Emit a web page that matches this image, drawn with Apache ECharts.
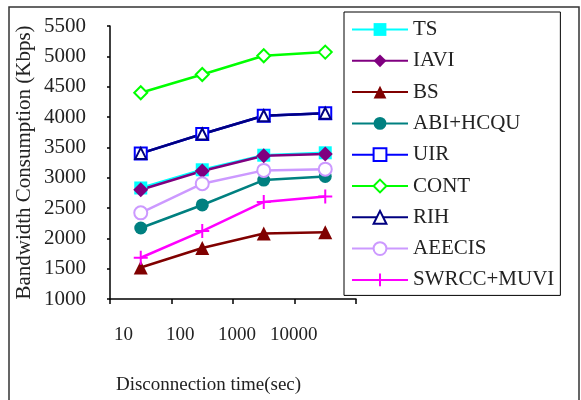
<!DOCTYPE html>
<html>
<head>
<meta charset="utf-8">
<script src="https://cdn.jsdelivr.net/npm/echarts@6/dist/echarts.min.js"></script>
<style>
  html, body { margin: 0; padding: 0; background: #fff; }
  #chart { width: 581px; height: 400px; }
</style>
</head>
<body>
<div id="chart"></div>
<script>
    // disconnection time (sec)
    const categories = ['10', '100', '1000', '10000'];

    // bandwidth consumption (Kbps)
    const ts = [2830, 3130, 3370, 3410];
    const iavi = [2800, 3110, 3360, 3390];
    const bs = [1520, 1840, 2080, 2100];
    const abiHcqu = [2170, 2550, 2960, 3020];
    const uir = [3400, 3720, 4020, 4060];
    const cont = [4400, 4700, 5010, 5070];
    const rih = [3400, 3720, 4020, 4060];
    const aeecis = [2420, 2900, 3120, 3140];
    const swrccMuvi = [1680, 2120, 2600, 2690];

    const FONT = 'Liberation Serif';
    const plus = 'path://M0,5L10,5M5,0L5,10';

    let EC = echarts.init(document.getElementById('chart'));

    // 一条折线
    function mk(name, data, color, symbol, size, hollow) {
        return {
            name: name,
            type: 'line',
            data: data,
            symbol: symbol,
            symbolSize: size,
            showSymbol: true,
            xAxisIndex: 0,
            yAxisIndex: 0,
            lineStyle: { color: color, width: 2.5 },
            itemStyle: hollow
                ? { color: '#fff', borderColor: color, borderWidth: 2 }
                : { color: color, borderColor: color, borderWidth: symbol === plus ? 2 : 0 },
            emphasis: { disabled: true },
            z: 3
        };
    }

    let option = {
        backgroundColor: '#fff',
        animation: false,
        graphic: [{
            type: 'rect',
            shape: { x: 9, y: 7, width: 570, height: 400 },
            style: { fill: 'none', stroke: '#333', lineWidth: 1.5 },
            silent: true
        }],
        grid: [
            { left: 110, top: 26, width: 246, bottom: 101 },
            { left: 95, top: 26, width: 227, bottom: 101 }
        ],
        xAxis: [{
            type: 'category',
            gridIndex: 0,
            data: categories,
            boundaryGap: true,
            axisLine: { lineStyle: { color: '#000', width: 1.5 } },
            axisTick: { show: true, length: 5, lineStyle: { color: '#000', width: 1.5 } },
            axisLabel: { show: false }
        }, {
            type: 'category',
            gridIndex: 1,
            data: categories,
            boundaryGap: true,
            axisLine: { show: false },
            axisTick: { show: false },
            axisLabel: { interval: 0, margin: 27, fontFamily: FONT, fontSize: 19, color: '#222' },
            name: 'Disconnection time(sec)',
            nameLocation: 'middle',
            nameGap: 77,
            nameTextStyle: { fontFamily: FONT, fontSize: 19, color: '#222' }
        }],
        yAxis: [{
            type: 'value',
            gridIndex: 0,
            min: 1000,
            max: 5500,
            interval: 500,
            splitLine: { show: false },
            axisLine: { show: true, lineStyle: { color: '#000', width: 1.5 } },
            axisTick: { show: true, length: 3, lineStyle: { color: '#000', width: 1.5 } },
            axisLabel: {
                margin: 24, fontFamily: FONT, fontSize: 21, color: '#222',
                formatter: v => String(v)
            },
            name: 'Bandwidth Consumption (Kbps)',
            nameLocation: 'middle',
            nameGap: 75,
            nameTextStyle: { fontFamily: FONT, fontSize: 21, color: '#222' }
        }, {
            type: 'value',
            gridIndex: 1,
            show: false,
            min: 1000,
            max: 5500
        }],
        legend: {
            orient: 'vertical',
            left: 344,
            top: 12,
            padding: [7, 6, 5, 7],
            itemWidth: 56,
            itemHeight: 16,
            itemGap: 10.3,
            borderColor: '#000',
            borderWidth: 1,
            backgroundColor: '#fff',
            textStyle: { fontFamily: FONT, fontSize: 21, color: '#222', lineHeight: 21 },
            data: ['TS', 'IAVI', 'BS', 'ABI+HCQU', 'UIR', 'CONT', 'RIH', 'AEECIS', 'SWRCC+MUVI']
        },
        series: [
            mk('TS', ts, '#00FFFF', 'rect', 13, false),
            mk('IAVI', iavi, '#800080', 'diamond', 15, false),
            mk('BS', bs, '#800000', 'triangle', 14, false),
            mk('ABI+HCQU', abiHcqu, '#008080', 'circle', 13, false),
            mk('UIR', uir, '#0000FF', 'rect', 12, true),
            mk('CONT', cont, '#00FF00', 'diamond', 13, true),
            mk('RIH', rih, '#000080', 'triangle', 11, true),
            mk('AEECIS', aeecis, '#CC99FF', 'circle', 13, true),
            mk('SWRCC+MUVI', swrccMuvi, '#FF00FF', plus, 14, false)
        ]
    };

    EC.setOption(option);
</script>
</body>
</html>
